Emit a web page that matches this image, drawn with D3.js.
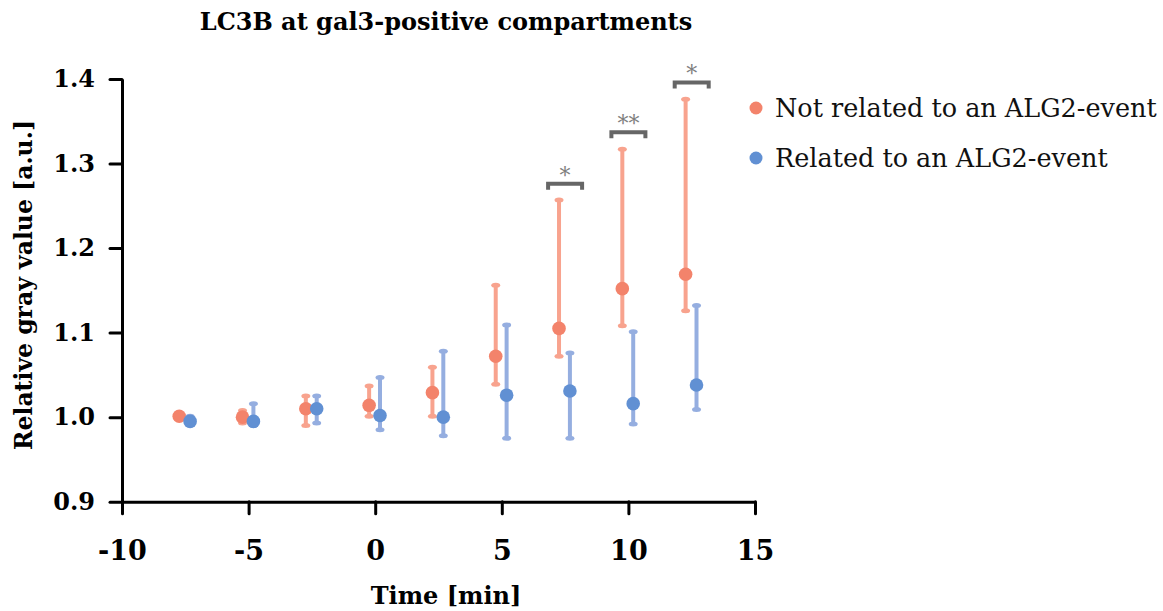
<!DOCTYPE html>
<html>
<head>
<meta charset="utf-8">
<script src="https://cdn.jsdelivr.net/npm/d3@7"></script>
<style>
  body { margin: 0; background: #fff; }
  svg text { font-family: "DejaVu Serif", serif; }
</style>
</head>
<body>
<svg id="chart" width="1163" height="611"></svg>
<script>
// data
var times = [-7.5, -5, -2.5, 0, 2.5, 5, 7.5, 10, 12.5];
var notRelMean = [1.001, 1.000, 1.010, 1.014, 1.029, 1.072, 1.105, 1.152, 1.169];
var notRelLow  = [0.999, 0.993, 0.990, 1.001, 1.001, 1.039, 1.072, 1.108, 1.126];
var notRelHigh = [1.002, 1.008, 1.025, 1.037, 1.059, 1.156, 1.257, 1.317, 1.376];
var relMean = [0.995, 0.995, 1.010, 1.002, 1.000, 1.026, 1.031, 1.016, 1.038];
var relLow  = [0.993, 0.990, 0.993, 0.985, 0.978, 0.975, 0.975, 0.992, 1.009];
var relHigh = [1.001, 1.016, 1.025, 1.047, 1.078, 1.109, 1.076, 1.101, 1.132];
var notRelShift = -0.24, relShift = 0.19;
var sigTimes = [7.5, 10, 12.5];
var sigLevel = [1.276, 1.337, 1.396];
var sigLabel = ["*", "**", "*"];
var xTicks = [-10, -5, 0, 5, 10, 15];
var yTicks = [0.9, 1.0, 1.1, 1.2, 1.3, 1.4];

var svg = d3.select("#chart");

var x = d3.scaleLinear().domain([-10, 15]).range([122, 755]);
var y = d3.scaleLinear().domain([0.9, 1.4]).range([501.7, 79]);

var orange = "#f3836b", orangeBar = "#f8a38e";
var blue = "#6190d3", blueBar = "#95aee0";

// axes
var xAxis = svg.append("g")
    .attr("transform", "translate(0," + y(0.9) + ")")
    .call(d3.axisBottom(x).tickValues(xTicks).tickSize(12).tickSizeOuter(0).tickPadding(27)
      .tickFormat(d3.format("d")));
var yAxis = svg.append("g")
    .attr("transform", "translate(" + x(-10) + ",0)")
    .call(d3.axisLeft(y).tickValues(yTicks).tickSize(12).tickSizeOuter(0).tickPadding(15)
      .tickFormat(d3.format(".1f")));

[xAxis, yAxis].forEach(function(a){
  a.select(".domain").attr("stroke", "#000").attr("stroke-width", 3);
  a.selectAll(".tick line").attr("stroke", "#000").attr("stroke-width", 3).attr("stroke-linecap", "round");
  a.selectAll(".tick text").attr("fill", "#000").attr("font-weight", "bold")
    .attr("font-family", "DejaVu Serif, serif");
});
xAxis.selectAll(".tick text").attr("font-size", 27)
  .text(function(d){ return d < 0 ? "-" + Math.abs(d) : d; });
yAxis.selectAll(".tick text").attr("font-size", 24);

function drawSeries(mean, low, high, shift, col, barCol){
  var g = svg.append("g");
  var idx = d3.range(times.length);
  g.selectAll("line.err").data(idx).enter().append("line")
    .attr("x1", function(i){ return x(times[i] + shift); })
    .attr("x2", function(i){ return x(times[i] + shift); })
    .attr("y1", function(i){ return y(low[i]); })
    .attr("y2", function(i){ return y(high[i]); })
    .attr("stroke", barCol).attr("stroke-width", 4);
  var caps = [];
  idx.forEach(function(i){ caps.push([i, low[i]]); caps.push([i, high[i]]); });
  g.selectAll("ellipse").data(caps).enter().append("ellipse")
    .attr("cx", function(d){ return x(times[d[0]] + shift); })
    .attr("cy", function(d){ return y(d[1]); })
    .attr("rx", 4.5).attr("ry", 2.5)
    .attr("fill", barCol);
  g.selectAll("circle").data(idx).enter().append("circle")
    .attr("cx", function(i){ return x(times[i] + shift); })
    .attr("cy", function(i){ return y(mean[i]); })
    .attr("r", 6.8)
    .attr("fill", col);
}

drawSeries(notRelMean, notRelLow, notRelHigh, notRelShift, orange, orangeBar);
drawSeries(relMean, relLow, relHigh, relShift, blue, blueBar);

// significance brackets
var sig = svg.append("g");
sigTimes.forEach(function(t, i){
  var cx = x(t), yy = y(sigLevel[i]), hw = 17;
  sig.append("path")
    .attr("d", "M" + (cx - hw) + "," + (yy + 6) + "V" + yy + "H" + (cx + hw) + "V" + (yy + 6))
    .attr("fill", "none").attr("stroke", "#666").attr("stroke-width", 4);
  sig.append("text")
    .attr("x", cx).attr("y", yy - 1)
    .attr("text-anchor", "middle")
    .attr("font-size", 22).attr("fill", "#7f7f7f")
    .text(sigLabel[i]);
});

// title and labels
svg.append("text").attr("x", 446).attr("y", 30).attr("text-anchor", "middle")
  .attr("font-size", 24).attr("font-weight", "bold").text("LC3B at gal3-positive compartments");
svg.append("text").attr("x", 446).attr("y", 604).attr("text-anchor", "middle")
  .attr("font-size", 24).attr("font-weight", "bold").text("Time [min]");
svg.append("text").attr("transform", "translate(32,285) rotate(-90)").attr("text-anchor", "middle")
  .attr("font-size", 23.5).attr("font-weight", "bold").text("Relative gray value [a.u.]");

// legend
var legend = [["Not related to an ALG2-event", orange], ["Related to an ALG2-event", blue]];
legend.forEach(function(l, i){
  var ly = 108 + i * 50;
  svg.append("circle").attr("cx", 756).attr("cy", ly).attr("r", 6.5).attr("fill", l[1]);
  svg.append("text").attr("x", 775).attr("y", ly + 9).attr("font-size", 25.5).attr("fill", "#111").text(l[0]);
});
</script>
</body>
</html>
